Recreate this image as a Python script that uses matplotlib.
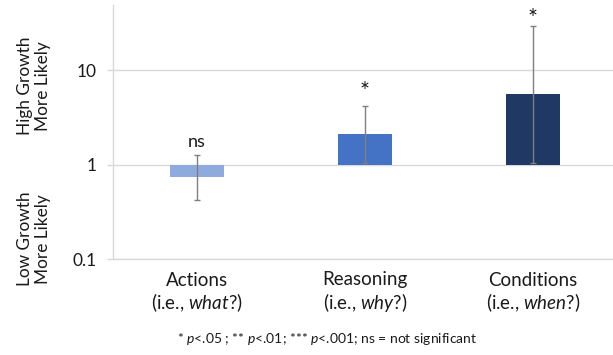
import numpy as np
import matplotlib
matplotlib.use('Agg')
import matplotlib.pyplot as plt

plt.rcParams['font.family'] = ['Lato', 'DejaVu Sans']
plt.rcParams['mathtext.fontset'] = 'custom'
plt.rcParams['mathtext.rm'] = 'Lato'
plt.rcParams['mathtext.it'] = 'Lato:italic'

# odds ratios (log scale, bars start at 1)
categories = ['Actions', 'Reasoning', 'Conditions']
questions = ['what?)', 'why?)', 'when?)']
odds_ratio = [0.74, 2.1, 5.6]
ci_low = [0.42, 1.05, 1.05]
ci_high = [1.28, 4.2, 29.3]
sig_labels = ['ns', '*', '*']
bar_colors = ['#8FAADC', '#4472C4', '#1F3864']

TEXT = '#1a1a1a'
GRID = '#D9D9D9'

fig = plt.figure(figsize=(6.13, 3.55), dpi=100)
ax = fig.add_axes([113 / 613, 1 - 259 / 355, 500 / 613, 254 / 355])

x = np.arange(len(categories))
vals = np.array(odds_ratio)
heights = vals - 1.0
ax.bar(x, heights, bottom=1.0, width=0.32, color=bar_colors, zorder=3)

yerr = np.array([vals - np.array(ci_low), np.array(ci_high) - vals])
ax.errorbar(x, vals, yerr=yerr, fmt='none', ecolor='#7F7F7F',
            elinewidth=1.0, capsize=2.5, capthick=1.0, zorder=4)

# offsets above the upper CI, in points
sig_offsets = [3, 3, -2]
for xi, top, lab, off in zip(x, ci_high, sig_labels, sig_offsets):
    ax.annotate(lab, (xi, top), xytext=(0, off), textcoords='offset points',
                ha='center', va='bottom', fontsize=13 if lab == 'ns' else 17,
                color=TEXT)

ax.set_yscale('log')
ax.set_ylim(0.1, 49.2)
ax.set_xlim(-0.5, 2.476)
ax.set_yticks([0.1, 1, 10])
ax.set_yticklabels(['0.1', '1', '10'])
ax.yaxis.set_minor_locator(matplotlib.ticker.NullLocator())
ax.grid(axis='y', color=GRID, linewidth=1.0, zorder=0)

ax.set_xticks(x)
ax.set_xticklabels([f'{c}\n(i.e., $\\it{{{q}}}$' for c, q in zip(categories, questions)],
                   fontsize=13.5, color=TEXT, linespacing=1.15)
ax.tick_params(axis='x', length=0, pad=9)
ax.tick_params(axis='y', length=4.5, width=1.0, color=GRID, pad=7,
               labelsize=12.5, labelcolor=TEXT)

for side in ['top', 'right']:
    ax.spines[side].set_visible(False)
ax.spines['left'].set_color(GRID)
ax.spines['bottom'].set_color(GRID)
ax.spines['left'].set_linewidth(1.0)
ax.spines['bottom'].set_linewidth(1.0)

fig.text(34 / 613, 1 - 86 / 355, 'High Growth\nMore Likely', rotation=90,
         ha='center', va='center', multialignment='center',
         fontsize=12.4, color=TEXT, linespacing=1.2)
fig.text(34 / 613, 1 - 239 / 355, 'Low Growth\nMore Likely', rotation=90,
         ha='center', va='center', multialignment='center',
         fontsize=12.4, color=TEXT, linespacing=1.2)

fig.text(327 / 613, 1 - 339 / 355,
         '* $p$<.05 ; ** $p$<.01; *** $p$<.001; ns = not significant',
         ha='center', va='center', fontsize=10, color=TEXT)

fig.savefig('out.png', dpi=100)
